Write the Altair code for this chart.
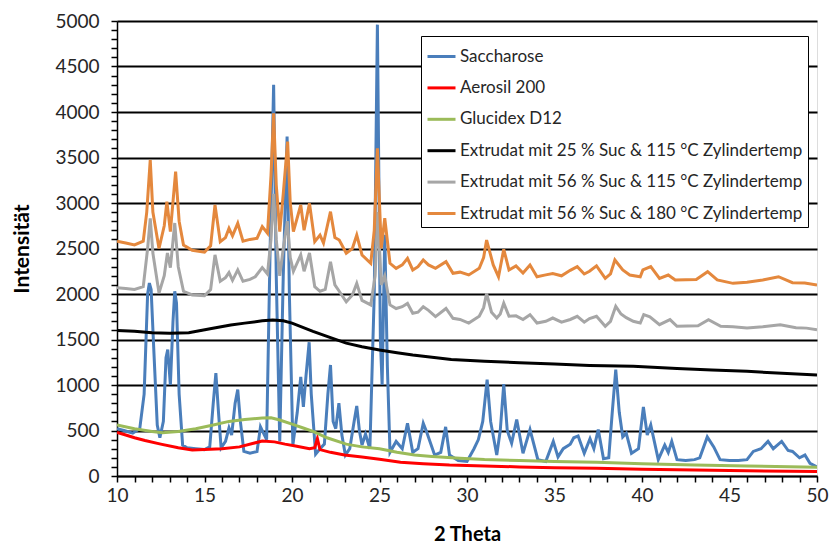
import altair as alt
import pandas as pd

# ---------------- data ----------------
series_names = [
    "Saccharose",
    "Aerosil 200",
    "Glucidex D12",
    "Extrudat mit 25 % Suc & 115 °C Zylindertemp",
    "Extrudat mit 56 % Suc & 115 °C Zylindertemp",
    "Extrudat mit 56 % Suc & 180 °C Zylindertemp",
]
series_colors = ["#4A7EBB", "#FF0000", "#9BBB59", "#000000", "#A6A6A6", "#E4883D"]

sac_x = [10.0, 10.4, 10.9, 11.3, 11.55, 11.75, 11.85, 11.95, 12.1, 12.3, 12.45, 12.65, 12.8, 12.9, 13.05, 13.2, 13.3, 13.4, 13.55, 13.75,
         14.0, 14.5, 15.0, 15.3, 15.5, 15.65, 15.8, 15.95, 16.2, 16.4, 16.55, 16.75, 16.9, 17.05, 17.25, 17.6, 18.0, 18.2, 18.35, 18.55,
         18.75, 18.95, 19.1, 19.3, 19.5, 19.72, 19.85, 20.05, 20.3, 20.5, 20.65, 20.8, 20.98, 21.1, 21.35, 21.6, 21.85, 22.05, 22.2, 22.35,
         22.5, 22.68, 22.85, 23.05, 23.3, 23.55, 23.7, 23.85, 24.0, 24.2, 24.45, 24.7, 24.88, 25.05, 25.15, 25.3, 25.45, 25.6, 25.95, 26.3,
         26.6, 26.9, 27.2, 27.5, 27.7, 28.15, 28.5, 28.78, 29.0, 29.5, 30.0, 30.4, 30.65, 30.9, 31.15, 31.35, 31.7, 31.9, 32.1, 32.3,
         32.55, 32.84, 33.2, 33.6, 34.05, 34.5, 34.93, 35.2, 35.5, 35.9, 36.1, 36.35, 36.7, 37.03, 37.25, 37.5, 37.8, 38.1, 38.3, 38.5,
         38.7, 38.9, 39.1, 39.4, 39.8, 40.08, 40.3, 40.5, 40.93, 41.3, 41.5, 41.7, 42.0, 42.5, 43.0, 43.3, 43.73, 44.1, 44.46, 45.0,
         45.5, 46.0, 46.36, 46.8, 47.2, 47.5, 47.98, 48.35, 48.6, 49.0, 49.31, 49.6, 50.0]
sac_y = [520, 500, 470, 520, 900, 2000, 2120, 2050, 1400, 560, 420, 600, 1300, 1390, 1000, 1700, 2030, 1900, 900, 340,
         310, 300, 290, 320, 800, 1130, 700, 310, 380, 530, 450, 800, 950, 600, 270, 250, 270, 540, 480, 400,
         2500, 4300, 2200, 380, 2200, 3730, 2000, 340, 700, 1090, 760, 1100, 1470, 900, 240, 300, 350, 900, 1220, 600,
         520, 800, 450, 230, 300, 600, 770, 500, 340, 460, 300, 2000, 4960, 1500, 1000, 2650, 1200, 260, 380, 300,
         580, 260, 300, 580, 480, 230, 260, 540, 230, 170, 160, 300, 400, 600, 1060, 600, 230, 500, 1010, 500,
         360, 620, 250, 510, 180, 160, 380, 210, 300, 350, 420, 440, 250, 410, 300, 510, 190, 200, 700, 1170,
         700, 430, 470, 250, 300, 760, 450, 560, 180, 340, 260, 380, 180, 170, 180, 200, 430, 320, 180, 170,
         170, 180, 270, 300, 380, 300, 380, 280, 270, 200, 230, 140, 100]

aer_x = [10.0, 10.5, 11.0, 11.6, 12.5, 13.5, 14.3, 15.0, 16.0, 17.0, 17.8, 18.3, 19.0, 19.6, 20.2, 21.0, 21.3, 21.45, 21.6, 22.2,
         23.0, 24.0, 25.0, 26.2, 27.5, 29.0, 31.0, 33.0, 35.0, 37.4, 40.0, 43.0, 46.0, 50.0]
aer_y = [480, 450, 420, 390, 350, 310, 285, 290, 300, 320, 360, 385, 375, 350, 330, 300, 310, 410, 290, 260,
         230, 210, 185, 150, 135, 120, 110, 100, 92, 84, 75, 65, 58, 50]

glu_x = [10.0, 11.0, 12.0, 12.6, 13.5, 14.5, 15.5, 16.4, 17.3, 18.3, 18.8, 19.3, 20.0, 20.6, 21.2, 22.0, 23.1, 24.0, 25.0, 26.0,
         27.0, 28.0, 29.6, 31.0, 33.0, 35.0, 37.4, 40.0, 43.0, 46.0, 50.0]
glu_y = [560, 520, 490, 475, 490, 520, 560, 600, 620, 637, 640, 615, 570, 530, 490, 420, 350, 320, 300, 260,
         230, 215, 195, 180, 170, 160, 150, 135, 120, 110, 95]

e25_x = [10.0, 11.0, 12.0, 13.0, 14.1, 15.4, 16.5, 17.3, 18.3, 18.9, 19.5, 20.0, 21.2, 22.2, 23.1, 24.0, 25.0, 26.0, 26.9, 28.0,
         29.1, 31.0, 33.0, 35.0, 37.0, 39.5, 42.0, 44.0, 46.0, 48.0, 50.0]
e25_y = [1600, 1590, 1575, 1570, 1575, 1620, 1660, 1680, 1705, 1715, 1705, 1680, 1590, 1520, 1460, 1420, 1385, 1355, 1330, 1305,
         1280, 1260, 1245, 1230, 1215, 1205, 1180, 1165, 1150, 1130, 1110]

e56a_x = [10.0, 10.5, 11.0, 11.5, 11.75, 11.9, 12.05, 12.4, 12.7, 12.88, 13.05, 13.3, 13.5, 13.8, 14.3, 15.0, 15.35, 15.6, 15.9, 16.2,
          16.4, 16.6, 16.9, 17.2, 17.6, 17.9, 18.3, 18.6, 18.8, 18.95, 19.1, 19.3, 19.5, 19.73, 19.9, 20.08, 20.5, 20.69, 21.0, 21.3,
          21.6, 21.9, 22.2, 22.45, 22.7, 23.1, 23.45, 23.7, 24.0, 24.5, 24.75, 24.9, 25.1, 25.3, 25.6, 25.95, 26.3, 26.6, 26.9, 27.2,
          27.5, 27.8, 28.2, 28.8, 29.2, 29.6, 30.1, 30.7, 30.95, 31.12, 31.4, 31.7, 31.9, 32.1, 32.4, 32.8, 33.2, 33.6, 34.0, 34.5,
          34.9, 35.4, 35.9, 36.3, 36.7, 37.0, 37.4, 37.9, 38.2, 38.5, 38.8, 39.1, 39.5, 39.9, 40.1, 40.45, 41.0, 41.6, 42.0, 43.2,
          43.8, 44.5, 45.2, 46.0, 46.9, 47.9, 48.8, 49.4, 50.0]
e56a_y = [2070, 2060, 2050, 2080, 2500, 2830, 2450, 2010, 2200, 2450, 2290, 2780, 2300, 2030, 1990, 1980, 2050, 2430, 2140, 2180,
          2235, 2150, 2265, 2140, 2160, 2190, 2290, 2220, 2600, 3100, 2600, 2200, 2500, 2800, 2400, 2250, 2430, 2250, 2450, 2080,
          2030, 2050, 2355, 2100, 2030, 1915, 1990, 2117, 1930, 1880, 2200, 2900, 2100, 2200, 1880, 1840, 1860, 1896, 1788, 1800,
          1860, 1820, 1752, 1841, 1733, 1720, 1680, 1755, 1850, 2007, 1800, 1736, 1780, 1900, 1755, 1760, 1720, 1773, 1681, 1700,
          1736, 1690, 1720, 1755, 1690, 1730, 1755, 1645, 1700, 1865, 1780, 1740, 1700, 1681, 1773, 1750, 1663, 1718, 1645, 1650,
          1718, 1645, 1640, 1626, 1640, 1663, 1630, 1625, 1608]

e56b_x = [10.0, 10.5, 11.0, 11.5, 11.7, 11.9, 12.05, 12.4, 12.7, 12.85, 13.05, 13.35, 13.55, 13.8, 14.3, 15.0, 15.35, 15.6, 15.9, 16.2,
          16.4, 16.6, 16.9, 17.2, 17.6, 18.0, 18.3, 18.6, 18.8, 18.95, 19.1, 19.3, 19.5, 19.75, 19.9, 20.08, 20.5, 20.69, 21.0, 21.3,
          21.6, 21.8, 22.2, 22.45, 22.7, 23.1, 23.45, 23.7, 24.0, 24.5, 24.7, 24.88, 25.1, 25.3, 25.6, 25.95, 26.3, 26.6, 26.9, 27.2,
          27.5, 27.8, 28.2, 28.8, 29.2, 29.6, 30.1, 30.7, 30.95, 31.12, 31.5, 31.8, 32.1, 32.4, 32.8, 33.2, 33.6, 34.0, 34.5, 34.9,
          35.4, 35.9, 36.3, 36.7, 37.0, 37.4, 37.9, 38.2, 38.45, 38.9, 39.3, 39.9, 40.05, 40.5, 41.0, 41.5, 41.9, 43.1, 43.75, 44.3,
          45.2, 46.0, 46.9, 47.8, 48.6, 49.3, 50.0]
e56b_y = [2580, 2560, 2540, 2580, 2900, 3473, 2900, 2500, 2750, 3014, 2685, 3344, 2800, 2538, 2480, 2460, 2530, 2978, 2575, 2620,
          2722, 2640, 2777, 2580, 2600, 2612, 2740, 2667, 3300, 3985, 3200, 2685, 3100, 3674, 3000, 2685, 2978, 2700, 2996, 2575,
          2648, 2560, 2905, 2620, 2593, 2447, 2500, 2648, 2429, 2337, 2700, 3600, 2502, 2832, 2337, 2282, 2320, 2392, 2264, 2300,
          2374, 2320, 2282, 2355, 2227, 2240, 2209, 2282, 2400, 2593, 2319, 2190, 2491, 2264, 2309, 2230, 2319, 2190, 2210, 2225,
          2200, 2260, 2300, 2220, 2250, 2309, 2172, 2220, 2374, 2264, 2209, 2190, 2264, 2300, 2172, 2209, 2154, 2160, 2245, 2154,
          2117, 2130, 2154, 2190, 2124, 2120, 2099]

x_ticks = list(range(10, 51))          # minor every 1, labelled every 5
y_ticks = list(range(0, 5001, 100))    # minor every 100, labelled every 500

# ---------------- table ----------------
all_x = [sac_x, aer_x, glu_x, e25_x, e56a_x, e56b_x]
all_y = [sac_y, aer_y, glu_y, e25_y, e56a_y, e56b_y]
rows = []
for k, (name, xs, ys) in enumerate(zip(series_names, all_x, all_y)):
    for i, (a, b) in enumerate(zip(xs, ys)):
        rows.append({"series": name, "theta": a, "intens": b, "k": k, "i": i})
df = pd.DataFrame(rows)

FONT = "Lato"
TXT = "#262626"

chart = alt.Chart(df).mark_line(strokeWidth=3, clip=True).encode(
    x=alt.X("theta:Q", scale=alt.Scale(domain=[10, 50], nice=False, zero=False),
            axis=alt.Axis(values=x_ticks, title="2 Theta", grid=False,
                          labelExpr="datum.value % 5 === 0 ? datum.label : ''",
                          labelOverlap=False, labelFlush=False,
                          tickSize=6, tickWidth=1.5, tickColor="black",
                          domainColor="black", domainWidth=1.5,
                          labelFont=FONT, labelFontSize=19, labelColor=TXT, labelPadding=4,
                          titleFont=FONT, titleFontSize=20, titleFontWeight="bold", titleColor="black",
                          titlePadding=19)),
    y=alt.Y("intens:Q", scale=alt.Scale(domain=[0, 5000], nice=False),
            axis=alt.Axis(values=y_ticks, title="Intensität",
                          labelExpr="datum.value % 500 === 0 ? datum.label : ''",
                          labelOverlap=False, labelFlush=False,
                          grid=True, gridColor="black", gridWidth=2,
                          gridOpacity={"condition": {"test": "datum.value % 500 === 0", "value": 1}, "value": 0},
                          tickSize=6, tickWidth=1.5, tickColor="black",
                          domainColor="black", domainWidth=1.5,
                          labelFont=FONT, labelFontSize=19, labelColor=TXT, labelPadding=12,
                          titleFont=FONT, titleFontSize=21, titleFontWeight="bold", titleColor="black",
                          titlePadding=22, format="d")),
    color=alt.Color("series:N", scale=alt.Scale(domain=series_names, range=series_colors),
                    legend=alt.Legend(title=None, orient="none", legendX=304, legendY=15,
                                      fillColor="white", strokeColor="black",
                                      padding=5, symbolType="stroke", symbolSize=784,
                                      symbolStrokeWidth=3, labelFont=FONT, labelFontSize=17,
                                      labelColor=TXT, labelOffset=3, rowPadding=7.4,
                                      labelLimit=0)),
    detail="k:O",
    order="i:Q",
).properties(
    width=700, height=455,
    padding={"left": 117, "top": 21, "right": 19, "bottom": 73},
    autosize=alt.AutoSizeParams(type="none"),
).configure_view(stroke="black", strokeWidth=1.5).configure(background="white")

chart.save("out.html", embed_options={"renderer": "svg", "actions": False})
